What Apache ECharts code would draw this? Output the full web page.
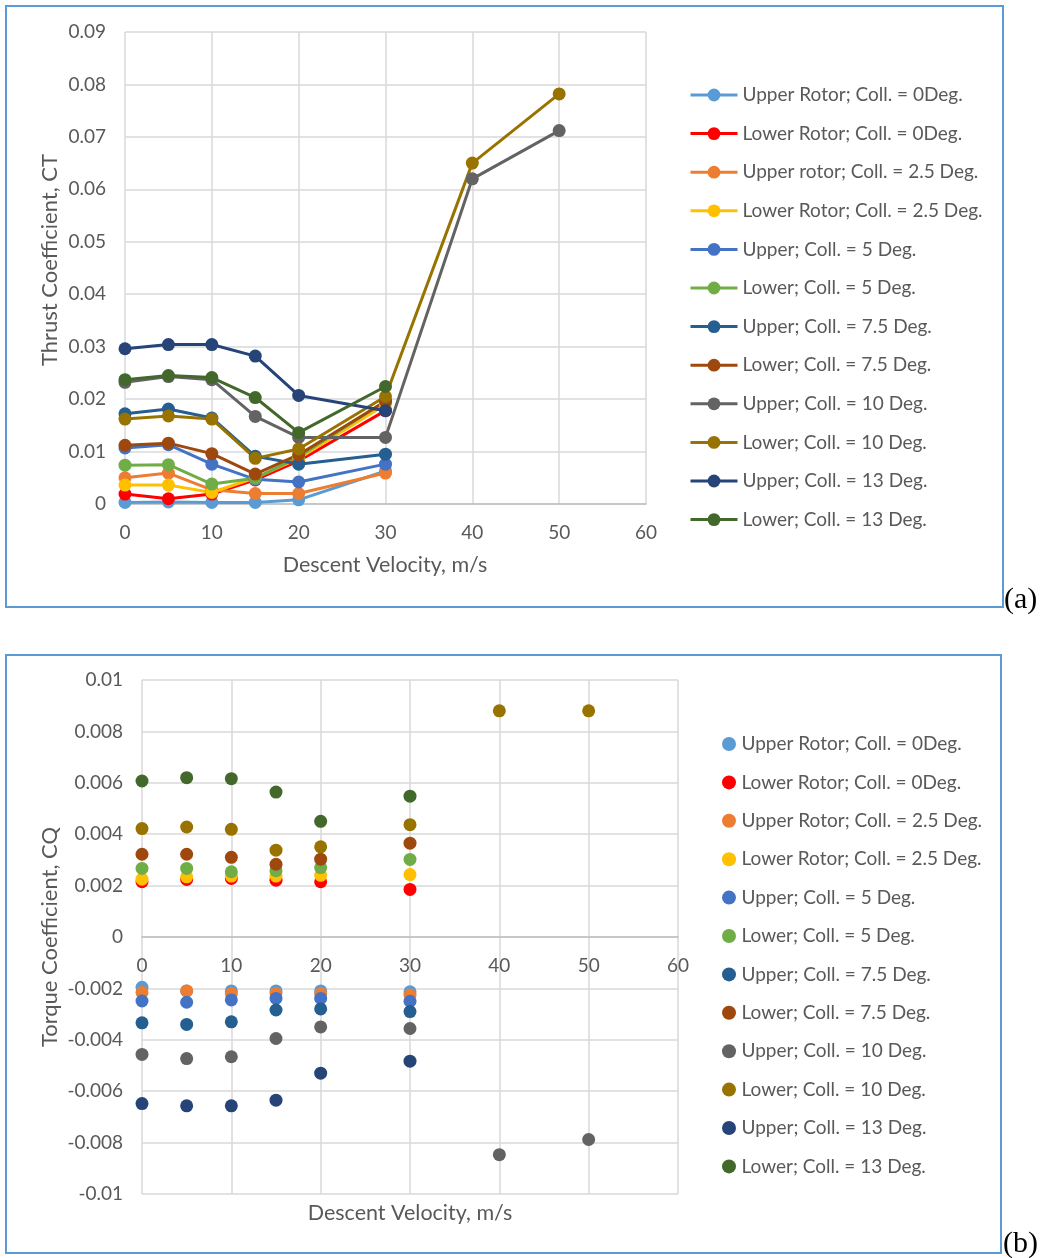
<!DOCTYPE html>
<html>
<head>
<meta charset="utf-8">
<script src="https://cdn.jsdelivr.net/npm/echarts@6/dist/echarts.min.js"></script>
<style>
  html, body { margin: 0; padding: 0; background: #ffffff; }
  #a { position: absolute; left: 0; top: 0; width: 1040px; height: 630px; }
  #b { position: absolute; left: 0; top: 630px; width: 1040px; height: 628px; }
</style>
</head>
<body>
<div id="a"></div>
<div id="b"></div>
<script>
// ---------- data ----------
const velocities = [0, 5, 10, 15, 20, 30];
const velocitiesExt = [0, 5, 10, 15, 20, 30, 40, 50];

const namesA = [
  'Upper Rotor; Coll. = 0Deg.', 'Lower Rotor; Coll. = 0Deg.',
  'Upper rotor; Coll. = 2.5 Deg.', 'Lower Rotor; Coll. = 2.5 Deg.',
  'Upper; Coll. = 5 Deg.', 'Lower; Coll. = 5 Deg.',
  'Upper; Coll. = 7.5 Deg.', 'Lower; Coll. = 7.5 Deg.',
  'Upper; Coll. = 10 Deg.', 'Lower; Coll. = 10 Deg.',
  'Upper; Coll. = 13 Deg.', 'Lower; Coll. = 13 Deg.'
];
const namesB = [
  'Upper Rotor; Coll. = 0Deg.', 'Lower Rotor; Coll. = 0Deg.',
  'Upper Rotor; Coll. = 2.5 Deg.', 'Lower Rotor; Coll. = 2.5 Deg.',
  'Upper; Coll. = 5 Deg.', 'Lower; Coll. = 5 Deg.',
  'Upper; Coll. = 7.5 Deg.', 'Lower; Coll. = 7.5 Deg.',
  'Upper; Coll. = 10 Deg.', 'Lower; Coll. = 10 Deg.',
  'Upper; Coll. = 13 Deg.', 'Lower; Coll. = 13 Deg.'
];
const colors = ['#5B9BD5', '#FF0000', '#ED7D31', '#FFC000', '#4472C4', '#70AD47',
                '#255E91', '#9E480E', '#636363', '#997300', '#264478', '#43682B'];

// Thrust coefficient CT
const ctUpper0  = [0.0003, 0.0004, 0.0003, 0.0003, 0.0008, 0.0063];
const ctLower0  = [0.0019, 0.0010, 0.0019, 0.0046, 0.0082, 0.0178];
const ctUpper25 = [0.0050, 0.0059, 0.0027, 0.0020, 0.0020, 0.0059];
const ctLower25 = [0.0036, 0.0036, 0.0022, 0.0050, 0.0087, 0.0190];
const ctUpper5  = [0.0107, 0.0113, 0.0076, 0.0047, 0.0042, 0.0076];
const ctLower5  = [0.0074, 0.0075, 0.0038, 0.0049, 0.0090, 0.0196];
const ctUpper75 = [0.0172, 0.0181, 0.0164, 0.0091, 0.0076, 0.0095];
const ctLower75 = [0.0112, 0.0116, 0.0096, 0.0057, 0.0094, 0.0196];
const ctUpper10 = [0.0232, 0.0243, 0.0237, 0.0167, 0.0127, 0.0127, 0.0620, 0.0712];
const ctLower10 = [0.0162, 0.0168, 0.0162, 0.0087, 0.0105, 0.0205, 0.0650, 0.0782];
const ctUpper13 = [0.0296, 0.0304, 0.0304, 0.0282, 0.0207, 0.0178];
const ctLower13 = [0.0237, 0.0245, 0.0241, 0.0203, 0.0136, 0.0224];

// Torque coefficient CQ
const cqUpper0  = [-0.00196, -0.0021, -0.0021, -0.0021, -0.0021, -0.00213];
const cqLower0  = [0.00215, 0.00224, 0.00228, 0.00221, 0.00215, 0.00185];
const cqUpper25 = [-0.00216, -0.0021, -0.0022, -0.0022, -0.0022, -0.00226];
const cqLower25 = [0.00225, 0.00234, 0.00237, 0.00237, 0.0024, 0.00243];
const cqUpper5  = [-0.00249, -0.00254, -0.00245, -0.00239, -0.00239, -0.0025];
const cqLower5  = [0.00267, 0.00267, 0.00254, 0.00258, 0.0027, 0.00302];
const cqUpper75 = [-0.00334, -0.0034, -0.0033, -0.00284, -0.0028, -0.0029];
const cqLower75 = [0.00322, 0.00322, 0.0031, 0.00283, 0.00303, 0.00365];
const cqUpper10 = [-0.00457, -0.00473, -0.00466, -0.00395, -0.0035, -0.00356, -0.00847, -0.00788];
const cqLower10 = [0.00422, 0.00428, 0.00419, 0.00338, 0.00351, 0.00437, 0.0088, 0.0088];
const cqUpper13 = [-0.00648, -0.00657, -0.00657, -0.00635, -0.0053, -0.00483];
const cqLower13 = [0.00607, 0.0062, 0.00616, 0.00564, 0.0045, 0.00548];

const ctSets = [ctUpper0, ctLower0, ctUpper25, ctLower25, ctUpper5, ctLower5,
                ctUpper75, ctLower75, ctUpper10, ctLower10, ctUpper13, ctLower13];
const cqSets = [cqUpper0, cqLower0, cqUpper25, cqLower25, cqUpper5, cqLower5,
                cqUpper75, cqLower75, cqUpper10, cqLower10, cqUpper13, cqLower13];

// ---------- styles ----------
const FONT = 'Lato';
const TXT = '#595959';
const GRIDC = '#d9d9d9';
const BORDER = '#5B9BD5';

function pair(vals) {
  const xs = vals.length === velocitiesExt.length ? velocitiesExt : velocities;
  return vals.map((v, i) => [xs[i], v]);
}

// ---------- chart (a) ----------
const chartA = echarts.init(document.getElementById('a'), null, { renderer: 'canvas' });
chartA.setOption({
  animation: false,
  backgroundColor: '#ffffff',
  textStyle: { fontFamily: FONT },
  grid: { left: 125, top: 32, width: 521, height: 472, containLabel: false, outerBoundsMode: 'none' },
  xAxis: {
    type: 'value', min: 0, max: 60, interval: 10,
    axisLine: { show: true, lineStyle: { color: '#bfbfbf', width: 1.5 } },
    axisTick: { show: false },
    splitLine: { show: true, lineStyle: { color: GRIDC, width: 1.5 } },
    axisLabel: { color: TXT, fontSize: 19, fontFamily: FONT, margin: 19 }
  },
  yAxis: {
    type: 'value', min: 0, max: 0.09, interval: 0.01,
    axisLine: { show: false }, axisTick: { show: false },
    splitLine: { show: true, lineStyle: { color: GRIDC, width: 1.5 } },
    axisLabel: { color: TXT, fontSize: 19, fontFamily: FONT, margin: 19 }
  },
  legend: {
    orient: 'vertical', left: 684, top: 80,
    itemWidth: 47, itemHeight: 16, itemGap: 18.6,
    data: namesA,
    lineStyle: { width: 3 },
    textStyle: { color: TXT, fontSize: 19, fontFamily: FONT, lineHeight: 20 }
  },
  series: namesA.map((n, i) => ({
    type: 'line', name: n, data: pair(ctSets[i]),
    symbol: 'circle', symbolSize: 13, showAllSymbol: true,
    color: colors[i],
    lineStyle: { width: 3, color: colors[i] },
    itemStyle: { color: colors[i] }
  })),
  graphic: [
    { type: 'rect', shape: { x: 6, y: 6, width: 997, height: 601 },
      style: { fill: 'none', stroke: BORDER, lineWidth: 2 }, silent: true },
    { type: 'text', x: 385, y: 565, style: { text: 'Descent Velocity, m/s', fill: TXT, font: '21.5px ' + FONT, textAlign: 'center', textVerticalAlign: 'middle' } },
    { type: 'text', x: 50, y: 260, rotation: Math.PI / 2, style: { text: 'Thrust Coefficient, CT', fill: TXT, font: '22px ' + FONT, textAlign: 'center', textVerticalAlign: 'middle' } },
    { type: 'text', x: 1004, y: 600, style: { text: '(a)', fill: '#000000', font: '30px "Liberation Serif"', textAlign: 'left', textVerticalAlign: 'middle' } }
  ]
});

// ---------- chart (b) ----------
const chartB = echarts.init(document.getElementById('b'), null, { renderer: 'canvas' });
chartB.setOption({
  animation: false,
  backgroundColor: '#ffffff',
  textStyle: { fontFamily: FONT },
  grid: { left: 142, top: 50, width: 536, height: 514, containLabel: false, outerBoundsMode: 'none' },
  xAxis: {
    type: 'value', min: 0, max: 60, interval: 10,
    position: 'bottom', offset: -257,
    axisLine: { show: true, onZero: false, lineStyle: { color: '#bfbfbf', width: 1.5 } },
    axisTick: { show: false },
    splitLine: { show: true, lineStyle: { color: GRIDC, width: 1.5 } },
    axisLabel: { color: TXT, fontSize: 19, fontFamily: FONT, margin: 19 }
  },
  yAxis: {
    type: 'value', min: -0.01, max: 0.01, interval: 0.002,
    axisLine: { show: false }, axisTick: { show: false },
    splitLine: { show: true, lineStyle: { color: GRIDC, width: 1.5 } },
    axisLabel: { color: TXT, fontSize: 19, fontFamily: FONT, margin: 19 }
  },
  legend: {
    orient: 'vertical', left: 717, top: 99,
    itemWidth: 15, itemHeight: 14, itemGap: 18.4,
    data: namesB,
    textStyle: { color: TXT, fontSize: 19, fontFamily: FONT, lineHeight: 20 }
  },
  series: namesB.map((n, i) => ({
    type: 'scatter', name: n, data: pair(cqSets[i]),
    symbol: 'circle', symbolSize: 13,
    itemStyle: { color: colors[i], opacity: 1 }
  })),
  graphic: [
    { type: 'rect', shape: { x: 6, y: 25, width: 995, height: 598 },
      style: { fill: 'none', stroke: BORDER, lineWidth: 2 }, silent: true },
    { type: 'text', x: 410, y: 583, style: { text: 'Descent Velocity, m/s', fill: TXT, font: '21.5px ' + FONT, textAlign: 'center', textVerticalAlign: 'middle' } },
    { type: 'text', x: 50, y: 307, rotation: Math.PI / 2, style: { text: 'Torque Coefficient, CQ', fill: TXT, font: '22px ' + FONT, textAlign: 'center', textVerticalAlign: 'middle' } },
    { type: 'text', x: 1003, y: 614, style: { text: '(b)', fill: '#000000', font: '30px "Liberation Serif"', textAlign: 'left', textVerticalAlign: 'middle' } }
  ]
});
</script>
</body>
</html>
